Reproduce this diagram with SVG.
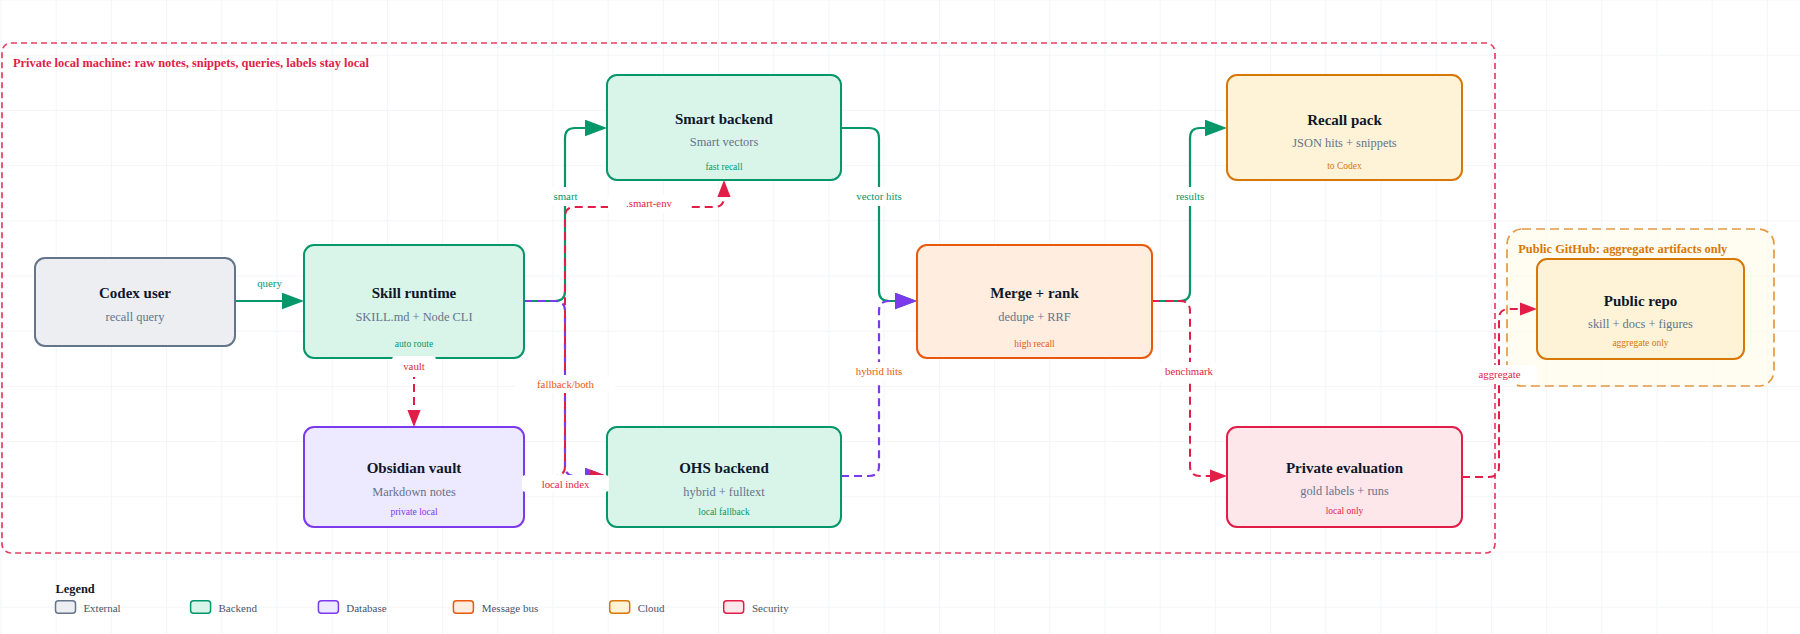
<svg xmlns="http://www.w3.org/2000/svg" width="1800" height="634" viewBox="0 0 1800 634">
<style>
text{font-family:"Liberation Serif","Times New Roman",serif}
.t{font-size:15px;font-weight:bold;fill:#0f172a;text-anchor:middle}
.s{font-size:12.4px;fill:#64748b;text-anchor:middle}
.g{font-size:9.5px;text-anchor:middle}
.n{stroke-width:2}
.ext{fill:#eceef2;stroke:#64748b}
.be{fill:#d9f5ea;stroke:#059669}
.db{fill:#ede9fe;stroke:#7c3aed}
.mb{fill:#ffeddf;stroke:#ea580c}
.cl{fill:#fef3d6;stroke:#d97706}
.sec{fill:#fde7eb;stroke:#e11d48}
.e{fill:none;stroke-width:2.2;stroke-linejoin:round}
.eg{stroke:#059669;marker-end:url(#ag)}
.er{stroke:#e11d48;stroke-dasharray:8 5;stroke-width:2;marker-end:url(#ar)}
.ep{stroke:#7c3aed;stroke-dasharray:8 5;marker-end:url(#ap)}
.lb{fill:#fff}
.lt{font-size:10.8px;text-anchor:middle}
.cg{fill:#059669}.cr{fill:#e11d48}.co{fill:#ea580c}.cp{fill:#7c3aed}.cc{fill:#d97706}
.rl{font-size:12.4px;font-weight:bold}
.lg{font-size:11px;fill:#475569}
.sw{stroke-width:1.5}
</style>
<defs>
<pattern id="grid" width="55.2" height="55.2" patternUnits="userSpaceOnUse" x="0.5" y="-0.5">
<path d="M0,0.5 H55.2 M0.5,0 V55.2" stroke="#f3f5f8" stroke-width="1" fill="none"/>
</pattern>
<marker id="ag" markerUnits="userSpaceOnUse" markerWidth="22" markerHeight="17" refX="19" refY="8.35" orient="auto"><path d="M0,0 L22,8.35 L0,16.7 Z" fill="#059669"/></marker>
<marker id="ap" markerUnits="userSpaceOnUse" markerWidth="22" markerHeight="17" refX="19" refY="8.35" orient="auto"><path d="M0,0 L22,8.35 L0,16.7 Z" fill="#7c3aed"/></marker>
<marker id="ar" markerUnits="userSpaceOnUse" markerWidth="17" markerHeight="14" refX="14" refY="6.6" orient="auto"><path d="M0,0 L17,6.6 L0,13.2 Z" fill="#e11d48"/></marker>
</defs>
<rect width="1800" height="634" fill="#fff"/>
<rect width="1800" height="634" fill="url(#grid)"/>

<g id="region-private">
<rect x="2" y="43" width="1493" height="510" rx="9" fill="none" stroke="#e11d48" stroke-opacity=".85" stroke-width="1.7" stroke-dasharray="6 4"/>
<text class="rl cr" x="13" y="66.5">Private local machine: raw notes, snippets, queries, labels stay local</text>
</g>
<g id="region-public">
<rect x="1507" y="229" width="267" height="157" rx="15" fill="#fffbeb" fill-opacity=".7" stroke="#d97706" stroke-opacity=".75" stroke-width="1.7" stroke-dasharray="9 5"/>
<text class="rl cc" x="1518.3" y="252.7">Public GitHub: aggregate artifacts only</text>
</g>

<g id="connectors">
<path class="e eg" d="M235,301 H301"/>
<path class="e eg" d="M524,301 H555 Q565,301 565,291 V138 Q565,128 575,128 H604"/>
<path class="e ep" d="M524,301 H555 Q565,301 565,311 V466 Q565,476 575,476 H604"/>
<path class="e er" d="M414,358 V424"/>
<path class="e er" d="M524,476 H555 Q565,476 565,466 V217 Q565,207 575,207 H714 Q724,207 724,197 V183"/>
<path class="e er" d="M524,476 H604"/>
<path class="e eg" d="M841,128 H869 Q879,128 879,138 V291 Q879,301 889,301 H914"/>
<path class="e ep" d="M841,476 H869 Q879,476 879,466 V311 Q879,301 889,301 H914"/>
<path class="e eg" d="M1152,301 H1180 Q1190,301 1190,291 V138 Q1190,128 1200,128 H1224"/>
<path class="e er" d="M1152,301 H1180 Q1190,301 1190,311 V466 Q1190,476 1200,476 H1224"/>
<path class="e er" d="M1462,477 H1489 Q1499,477 1499,467 V319 Q1499,309 1509,309 H1534"/>
</g>

<g id="codex-user"><rect class="n ext" x="35" y="258" width="200" height="88" rx="10"/><text class="t" x="135" y="298">Codex user</text><text class="s" x="135" y="320.7">recall query</text></g>
<g id="skill-runtime"><rect class="n be" x="304" y="245" width="220" height="113" rx="10"/><text class="t" x="414" y="298.3">Skill runtime</text><text class="s" x="414" y="320.7">SKILL.md + Node CLI</text><text class="g cg" x="414" y="346.7">auto route</text></g>
<g id="smart-backend"><rect class="n be" x="607" y="75" width="234" height="105" rx="10"/><text class="t" x="724" y="124.3">Smart backend</text><text class="s" x="724" y="146.3">Smart vectors</text><text class="g cg" x="724" y="170">fast recall</text></g>
<g id="obsidian-vault"><rect class="n db" x="304" y="427" width="220" height="100" rx="10"/><text class="t" x="414" y="473.3">Obsidian vault</text><text class="s" x="414" y="495.7">Markdown notes</text><text class="g cp" x="414" y="515">private local</text></g>
<g id="ohs-backend"><rect class="n be" x="607" y="427" width="234" height="100" rx="10"/><text class="t" x="724" y="473">OHS backend</text><text class="s" x="724" y="495.7">hybrid + fulltext</text><text class="g cg" x="724" y="514.5">local fallback</text></g>
<g id="merge-rank"><rect class="n mb" x="917" y="245" width="235" height="113" rx="10"/><text class="t" x="1034.5" y="298.3">Merge + rank</text><text class="s" x="1034.5" y="320.7">dedupe + RRF</text><text class="g co" x="1034.5" y="346.7">high recall</text></g>
<g id="recall-pack"><rect class="n cl" x="1227" y="75" width="235" height="105" rx="10"/><text class="t" x="1344.5" y="125">Recall pack</text><text class="s" x="1344.5" y="146.7">JSON hits + snippets</text><text class="g cc" x="1344.5" y="169.3">to Codex</text></g>
<g id="private-evaluation"><rect class="n sec" x="1227" y="427" width="235" height="100" rx="10"/><text class="t" x="1344.5" y="472.7">Private evaluation</text><text class="s" x="1344.5" y="495">gold labels + runs</text><text class="g cr" x="1344.5" y="514.3">local only</text></g>
<g id="public-repo"><rect class="n cl" x="1537" y="259" width="207" height="100" rx="10"/><text class="t" x="1640.5" y="305.7">Public repo</text><text class="s" x="1640.5" y="327.7">skill + docs + figures</text><text class="g cc" x="1640.5" y="345.7">aggregate only</text></g>

<g id="connector-labels">
<text class="lt cg" x="269.5" y="287">query</text>
<rect class="lb" x="545" y="187" width="42" height="19" rx="4"/><text class="lt cg" x="565.5" y="200">smart</text>
<rect class="lb" x="850" y="187" width="58" height="19" rx="4"/><text class="lt cg" x="879" y="200">vector hits</text>
<rect class="lb" x="1167" y="187" width="46" height="19" rx="4"/><text class="lt cg" x="1190" y="200">results</text>
<rect class="lb" x="608" y="194" width="80" height="19" rx="4"/><text class="lt cr" x="649" y="207">.smart-env</text>
<rect class="lb" x="515" y="375" width="100" height="18" rx="4"/><text class="lt co" x="565.5" y="388.3">fallback/both</text>
<rect class="lb" x="392" y="356" width="44" height="21" rx="4"/><text class="lt cr" x="414" y="370">vault</text>
<rect class="lb" x="522" y="475" width="87" height="17" rx="4"/><text class="lt cr" x="565.5" y="487.5">local index</text>
<rect class="lb" x="850" y="362" width="58" height="19" rx="4"/><text class="lt co" x="879" y="375">hybrid hits</text>
<rect class="lb" x="1158" y="362" width="62" height="20" rx="4"/><text class="lt cr" x="1189" y="375">benchmark</text>
<rect class="lb" x="1473" y="365" width="64" height="19" rx="4"/><text class="lt cr" x="1499.5" y="378.3">aggregate</text>
</g>

<g id="legend">
<text x="55.5" y="593" font-size="12.4" font-weight="bold" fill="#0f172a">Legend</text>
<rect class="sw ext" x="55.5" y="600.7" width="20" height="12.6" rx="3"/><text class="lg" x="83.4" y="612">External</text>
<rect class="sw be" x="190.6" y="600.7" width="20" height="12.6" rx="3"/><text class="lg" x="218.5" y="612">Backend</text>
<rect class="sw db" x="318.4" y="600.7" width="20" height="12.6" rx="3"/><text class="lg" x="346.3" y="612">Database</text>
<rect class="sw mb" x="453.4" y="600.7" width="20" height="12.6" rx="3"/><text class="lg" x="481.7" y="612">Message bus</text>
<rect class="sw cl" x="609.7" y="600.7" width="20" height="12.6" rx="3"/><text class="lg" x="637.7" y="612">Cloud</text>
<rect class="sw sec" x="723.7" y="600.7" width="20" height="12.6" rx="3"/><text class="lg" x="752" y="612">Security</text>
</g>
</svg>
